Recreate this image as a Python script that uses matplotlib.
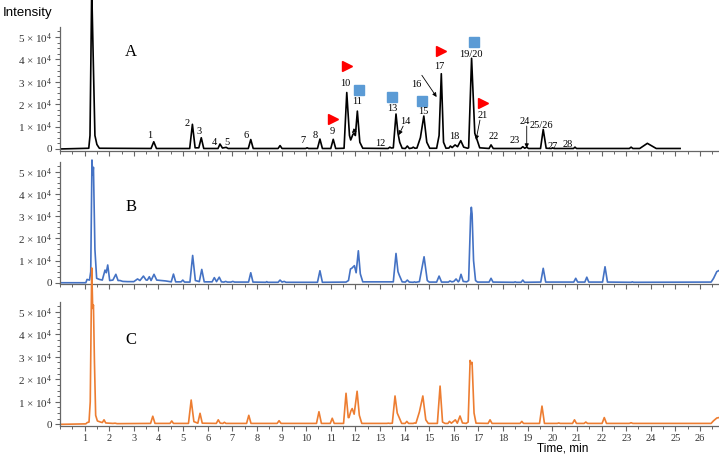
import matplotlib.pyplot as plt
from matplotlib.ticker import MultipleLocator, FixedLocator

plt.rcParams['font.family'] = 'Liberation Serif'
plt.rcParams['mathtext.fontset'] = 'custom'
plt.rcParams['mathtext.rm'] = 'Liberation Serif'
plt.rcParams['mathtext.it'] = 'Liberation Serif'

# retention time (min) / intensity (x 10^4)
a_time = [0.05, 1.17, 1.22, 1.29, 1.36, 1.42, 1.5, 1.6,
          3.7, 3.81, 3.92,
          5.27, 5.38, 5.49, 5.64, 5.74, 5.84,
          6.42, 6.5, 6.6, 6.75, 6.83,
          7.65, 7.75, 7.85,
          8.86, 8.94, 9.02,
          9.98, 10.04, 10.1,
          10.46, 10.56, 10.66,
          11.0, 11.1, 11.2,
          11.54, 11.65, 11.76, 11.81, 11.9, 11.95, 12.0, 12.08, 12.18, 12.3,
          13.33, 13.4, 13.46,
          13.54, 13.65, 13.73, 13.8, 13.9,
          14.03, 14.11, 14.19, 14.3, 14.35, 14.42,
          14.5, 14.64, 14.78, 14.9, 15.02,
          15.3, 15.4, 15.49, 15.58, 15.68,
          15.8, 15.86, 15.93, 16.05, 16.15, 16.28, 16.4, 16.56,
          16.6, 16.72, 16.85, 16.93, 17.05,
          17.43, 17.51, 17.6,
          18.72, 18.8, 18.88, 18.96, 19.03,
          19.52, 19.63, 19.75,
          19.96, 20.01, 20.07,
          20.86, 20.92, 20.98,
          23.13, 23.2, 23.27,
          23.55, 23.86, 24.22,
          25.19]
a_int = [0.0, 0.03, 0.6, 7.2, 3.6, 0.6, 0.2, 0.03,
         0.02, 0.32, 0.02,
         0.02, 1.1, 0.05, 0.05, 0.5, 0.02,
         0.02, 0.22, 0.04, 0.07, 0.02,
         0.02, 0.42, 0.02,
         0.02, 0.15, 0.02,
         0.02, 0.05, 0.02,
         0.02, 0.44, 0.02,
         0.02, 0.43, 0.02,
         0.03, 2.52, 0.6, 0.4, 0.65, 0.7, 0.6, 1.69, 0.3, 0.03,
         0.02, 0.08, 0.04,
         0.05, 1.56, 0.7, 0.3, 0.03,
         0.02, 0.13, 0.02, 0.04, 0.08, 0.03,
         0.04, 0.5, 1.47, 0.3, 0.03,
         0.03, 0.6, 3.36, 0.3, 0.03,
         0.04, 0.13, 0.06, 0.18, 0.1, 0.37, 0.08, 0.03,
         0.05, 4.05, 0.7, 0.45, 0.05,
         0.02, 0.18, 0.02,
         0.02, 0.1, 0.03, 0.08, 0.02,
         0.02, 0.87, 0.03,
         0.02, 0.05, 0.02,
         0.02, 0.08, 0.02,
         0.02, 0.08, 0.02,
         0.02, 0.25, 0.02,
         0.02]

b_time = [0.05, 1.05, 1.1, 1.2, 1.25, 1.3, 1.33, 1.36, 1.42, 1.49, 1.6, 1.72,
          1.83, 1.88, 1.94, 2.02, 2.15, 2.27, 2.36, 2.44, 2.55, 2.75, 3.0,
          3.15, 3.25, 3.39, 3.5, 3.55, 3.63, 3.7, 3.82, 3.93, 4.3,
          4.52, 4.61, 4.7, 4.92, 4.99, 5.06,
          5.28, 5.39, 5.5, 5.66, 5.76, 5.86,
          6.18, 6.27, 6.36, 6.47, 6.56, 6.66, 6.73, 6.8, 6.95, 7.02, 7.09,
          7.66, 7.75, 7.84,
          8.36, 8.4, 8.44, 8.86, 8.94, 9.02, 9.11, 9.18,
          10.46, 10.56, 10.66,
          11.62, 11.72, 11.8, 11.85, 11.96, 12.03, 12.12, 12.2, 12.3,
          13.54, 13.65, 13.73, 13.78, 13.9,
          14.03, 14.11, 14.19, 14.35, 14.4, 14.45,
          14.6, 14.79, 14.92, 15.0,
          15.3, 15.4, 15.5,
          15.78, 15.84, 15.92, 16.0, 16.09, 16.18, 16.22, 16.29, 16.38, 16.52,
          16.6, 16.68, 16.71, 16.74, 16.8, 16.88, 16.96,
          17.43, 17.51, 17.59,
          18.44, 18.49, 18.54, 18.73, 18.8, 18.87,
          19.53, 19.63, 19.73,
          20.87, 20.95, 21.03, 21.32, 21.4, 21.48,
          22.04, 22.14, 22.24,
          23.2, 23.25, 23.3,
          26.45, 26.55, 26.68, 26.77]
b_int = [0.0, 0.0, 0.15, 0.12, 0.5, 5.53, 4.85, 5.2, 1.5, 0.2, 0.15, 0.12,
         0.57, 0.45, 0.8, 0.1, 0.12, 0.38, 0.1, 0.1, 0.06, 0.05, 0.05,
         0.17, 0.1, 0.3, 0.12, 0.12, 0.27, 0.1, 0.38, 0.12, 0.08,
         0.04, 0.39, 0.04, 0.04, 0.12, 0.03,
         0.03, 1.23, 0.1, 0.05, 0.6, 0.04,
         0.04, 0.23, 0.05, 0.25, 0.04, 0.03, 0.06, 0.03, 0.03, 0.06, 0.03,
         0.03, 0.45, 0.03,
         0.02, 0.05, 0.02, 0.02, 0.12, 0.03, 0.06, 0.02,
         0.02, 0.54, 0.02,
         0.03, 0.1, 0.62, 0.65, 0.77, 0.45, 1.44, 0.4, 0.04,
         0.04, 1.32, 0.5, 0.35, 0.04,
         0.03, 0.12, 0.03, 0.02, 0.04, 0.02,
         0.05, 1.17, 0.1, 0.03,
         0.03, 0.3, 0.03,
         0.03, 0.08, 0.04, 0.06, 0.17, 0.04, 0.1, 0.38, 0.06, 0.04,
         0.1, 2.97, 3.4, 3.1, 1.0, 0.1, 0.03,
         0.03, 0.2, 0.03,
         0.02, 0.04, 0.02, 0.02, 0.12, 0.02,
         0.03, 0.65, 0.03,
         0.03, 0.2, 0.03, 0.03, 0.25, 0.03,
         0.03, 0.72, 0.03,
         0.02, 0.04, 0.02,
         0.03, 0.2, 0.5, 0.55]

c_time = [0.05, 1.05, 1.11, 1.18, 1.23, 1.29, 1.33, 1.36, 1.4, 1.45, 1.52, 1.65, 1.72,
          1.79, 1.86, 2.15, 2.24, 2.32,
          3.68, 3.77, 3.86,
          4.47, 4.54, 4.61,
          5.22, 5.33, 5.44, 5.6, 5.69, 5.78,
          6.35, 6.43, 6.51, 6.62, 6.68, 6.74,
          7.58, 7.67, 7.76,
          8.82, 8.9, 8.98,
          10.42, 10.52, 10.62,
          10.98, 11.06, 11.14,
          11.52, 11.62, 11.71, 11.74, 11.82, 11.87, 11.95, 12.07, 12.16, 12.26,
          13.28, 13.34, 13.4,
          13.5, 13.61, 13.7, 13.76, 13.88,
          14.02, 14.09, 14.16, 14.35, 14.4, 14.46,
          14.6, 14.74, 14.86, 14.96,
          15.33, 15.44, 15.54, 15.64,
          15.76, 15.82, 15.9, 16.06, 16.14, 16.25, 16.35, 16.5,
          16.58, 16.66, 16.7, 16.74, 16.82, 16.9,
          17.39, 17.47, 17.55,
          18.69, 18.76, 18.83,
          19.48, 19.58, 19.68,
          20.2, 20.26, 20.32,
          20.82, 20.9, 20.98, 21.29, 21.36, 21.43,
          22.02, 22.11, 22.2,
          23.13, 23.2, 23.27,
          26.45, 26.54, 26.68, 26.77]
c_int = [0.0, 0.02, 0.08, 0.1, 1.0, 6.95, 5.15, 5.3, 2.8, 0.4, 0.15, 0.1, 0.08,
         0.2, 0.06, 0.04, 0.05, 0.03,
         0.04, 0.36, 0.04,
         0.04, 0.15, 0.04,
         0.04, 1.08, 0.12, 0.05, 0.49, 0.05,
         0.04, 0.2, 0.05, 0.04, 0.09, 0.04,
         0.04, 0.4, 0.04,
         0.04, 0.16, 0.04,
         0.04, 0.56, 0.04,
         0.04, 0.27, 0.04,
         0.04, 1.38, 0.3, 0.3, 0.6, 0.7, 0.45, 1.47, 0.4, 0.04,
         0.04, 0.05, 0.04,
         0.05, 1.26, 0.5, 0.35, 0.04,
         0.04, 0.13, 0.04, 0.04, 0.06, 0.05,
         0.55, 1.26, 0.2, 0.04,
         0.04, 1.7, 0.1, 0.04,
         0.04, 0.13, 0.05, 0.2, 0.05, 0.37, 0.06, 0.04,
         0.1, 2.84, 2.7, 2.75, 0.5, 0.05,
         0.04, 0.2, 0.04,
         0.04, 0.13, 0.04,
         0.04, 0.81, 0.04,
         0.04, 0.06, 0.04,
         0.04, 0.2, 0.04, 0.04, 0.1, 0.04,
         0.04, 0.3, 0.04,
         0.04, 0.07, 0.04,
         0.04, 0.15, 0.28, 0.3]

y_ticks = [0, 1, 2, 3, 4, 5]
y_labels = ['0', '1 × 10$^4$', '2 × 10$^4$', '3 × 10$^4$', '4 × 10$^4$', '5 × 10$^4$']
x_ticks = list(range(1, 27))

# peak numbers in panel A and where they are written (time, intensity)
peak_labels = ['1', '2', '3', '4', '5', '6', '7', '8', '9', '10', '11', '12', '13', '14',
               '15', '16', '17', '18', '19/20', '21', '22', '23', '24', '25/26', '27', '28']
peak_label_pos = [(3.66, 0.58), (5.17, 1.14), (5.65, 0.77), (6.27, 0.28), (6.77, 0.28),
                  (7.55, 0.62), (9.86, 0.36), (10.36, 0.62), (11.06, 0.77), (11.58, 2.92),
                  (12.07, 2.13), (13.0, 0.25), (13.5, 1.79), (14.02, 1.21), (14.74, 1.66),
                  (14.49, 2.88), (15.41, 3.66), (16.01, 0.55), (16.69, 4.21), (17.17, 1.51),
                  (17.6, 0.55), (18.46, 0.37), (18.86, 1.21), (19.57, 1.04), (20.02, 0.13),
                  (20.61, 0.22)]
red_marks = [(11.65, 3.69), (11.1, 1.33), (15.48, 4.36), (17.2, 2.06)]
blue_marks = [(12.14, 2.65), (13.48, 2.32), (14.71, 2.15), (16.82, 4.77)]
arrows = [((14.7, 3.29), (15.3, 2.32)), ((13.94, 1.02), (13.76, 0.62)),
          ((12.03, 0.89), (11.86, 0.71)), ((17.06, 1.29), (16.9, 0.4)),
          ((18.96, 1.02), (18.96, 0.04))]

fig = plt.figure(figsize=(7.19, 4.54), dpi=100)
ax_a = fig.add_axes([0.0834, 0.6685, 0.9166, 0.2722])
ax_b = fig.add_axes([0.0834, 0.3738, 0.9166, 0.2699])
ax_c = fig.add_axes([0.0834, 0.0619, 0.9166, 0.2736])

grey = '#666666'
for ax, t, y, col, name, ny in [(ax_a, a_time, a_int, 'black', 'A', 4.32),
                                (ax_b, b_time, b_int, '#4472C4', 'B', 3.42),
                                (ax_c, c_time, c_int, '#ED7D31', 'C', 3.75)]:
    ax.plot(t, y, color=col, lw=1.2, clip_on=False)
    ax.set_xlim(0, 26.77)
    ax.set_ylim(-0.07, 5.45)
    ax.patch.set_alpha(0)
    for s in ['top', 'right']:
        ax.spines[s].set_visible(False)
    for s in ['left', 'bottom']:
        ax.spines[s].set_color(grey)
        ax.spines[s].set_linewidth(0.9)
    ax.yaxis.set_major_locator(FixedLocator(y_ticks))
    ax.set_yticklabels(y_labels)
    ax.yaxis.set_minor_locator(MultipleLocator(0.25))
    ax.xaxis.set_major_locator(FixedLocator(x_ticks))
    ax.xaxis.set_minor_locator(MultipleLocator(0.5))
    ax.tick_params(axis='both', which='major', length=3.5, width=0.8, color=grey,
                   labelsize=8, labelcolor='#333333', pad=2)
    ax.tick_params(axis='both', which='minor', length=2.5, width=0.7, color=grey)
    ax.text(2.88, ny, name, fontsize=12, ha='center', va='center')

ax_a.set_xticklabels([])
ax_b.set_xticklabels([])
ax_c.set_xticklabels([str(v) for v in x_ticks], fontsize=7.5)

for txt, (px, py) in zip(peak_labels, peak_label_pos):
    ax_a.text(px, py, txt, fontsize=7.5, ha='center', va='center')
for px, py in red_marks:
    ax_a.plot(px, py, marker='>', color='#FF0000', ms=7.5, ls='none')
for px, py in blue_marks:
    ax_a.plot(px, py, marker='s', color='#5B9BD5', ms=6.5, ls='none')
for (x0, y0), (x1, y1) in arrows:
    ax_a.annotate('', xy=(x1, y1), xytext=(x0, y0),
                  arrowprops=dict(arrowstyle='-|>', color='black', lw=0.6,
                                  mutation_scale=6, shrinkA=0, shrinkB=0))

fig.text(0.004, 0.971, 'Intensity', family='Liberation Sans', fontsize=9.5, va='center')
fig.text(0.783, 0.013, 'Time, min', family='Liberation Sans', fontsize=8.5, ha='center', va='center')

fig.savefig('out.png', dpi=100)
